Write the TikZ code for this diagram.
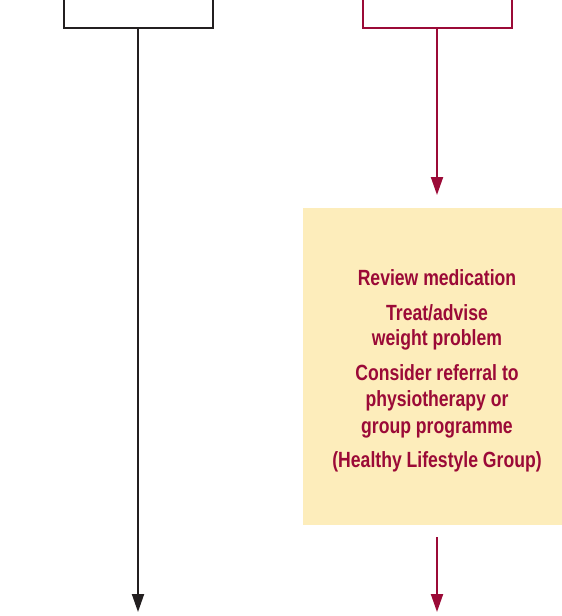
\documentclass[tikz,border=0pt]{standalone}
\usepackage{fontspec}
\setmainfont{Liberation Sans}[FakeStretch=0.8]
\usetikzlibrary{arrows.meta}
\definecolor{inkblack}{HTML}{231F20}
\definecolor{inkred}{HTML}{9B0A37}
\definecolor{boxyellow}{HTML}{FDEDBB}
\begin{document}
\begin{tikzpicture}[x=1pt,y=-1pt,
  blackline/.style={draw=inkblack,line width=2pt},
  redline/.style={draw=inkred,line width=2pt},
  blackarrow/.style={blackline,-{Triangle[width=12pt,length=18pt]}},
  redarrow/.style={redline,-{Triangle[width=12pt,length=18pt]}},
  infobox/.style={fill=boxyellow,draw=none,minimum width=259pt,minimum height=317pt,inner sep=0pt},
  boxtext/.style={text=inkred,font=\bfseries\fontsize{22}{26}\selectfont,anchor=base,inner sep=0pt}
]
\useasboundingbox (0,0) rectangle (562,616);
% black bracket
\coordinate (bl) at (64,0);
\coordinate (br) at (213,0);
\coordinate (bstem) at (138,28);
\coordinate (bend) at (138,612);
\draw[blackline] (bl) -- (64,28) -- (213,28) -- (br);
\draw[blackarrow] (bstem) -- (bend);
% red bracket
\coordinate (rl) at (363,0);
\coordinate (rr) at (512,0);
\coordinate (rstem) at (437,28);
\draw[redline] (rl) -- (363,28) -- (512,28) -- (rr);
% box
\node[infobox,anchor=north west] (box) at (303,208) {};
\draw[redarrow] (rstem) -- (437,195) coordinate (rtip);
\coordinate (rout) at (437,537);
\coordinate (rend) at (437,612);
\draw[redarrow] (rout) -- (rend);
% text
\node[boxtext] (t1) at (437,285) {Review medication};
\node[boxtext] (t2) at (437,320) {Treat/advise};
\node[boxtext] (t3) at (437,345.5) {weight problem};
\node[boxtext] (t4) at (437,380) {Consider referral to};
\node[boxtext] (t5) at (437,406.5) {physiotherapy or};
\node[boxtext] (t6) at (437,433) {group programme};
\node[boxtext] (t7) at (437,467) {(Healthy Lifestyle Group)};
\end{tikzpicture}
\end{document}
